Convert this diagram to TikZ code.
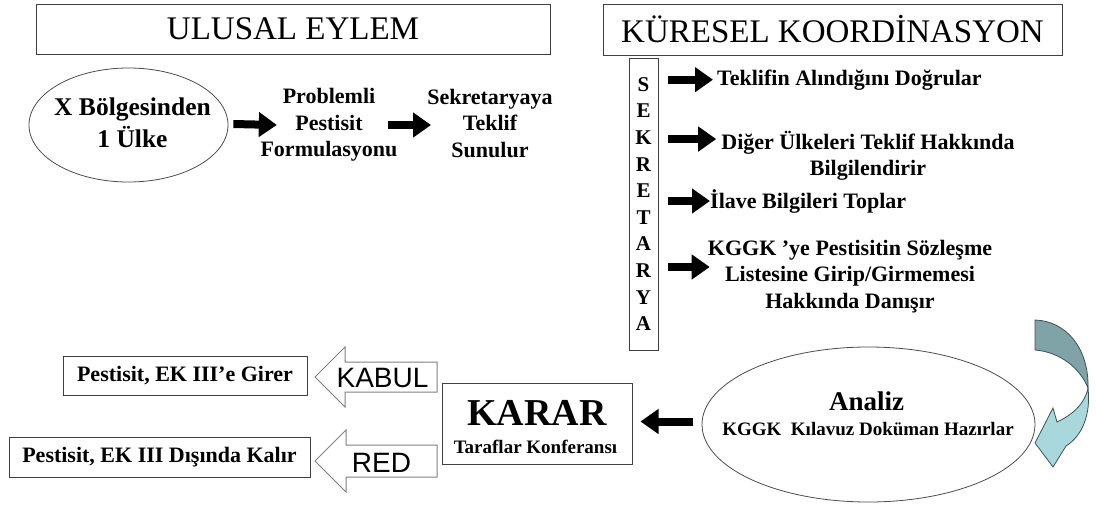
\documentclass[tikz,border=0pt]{standalone}
\usepackage{fontspec}
\setmainfont{Liberation Serif}
\newfontfamily\arialf{Liberation Sans}
\usetikzlibrary{arrows.meta,shapes.geometric}
\definecolor{edgegray}{HTML}{404040}
\definecolor{arrgray}{HTML}{808080}
\definecolor{tealdark}{HTML}{7FA3A6}
\definecolor{teallight}{HTML}{A8D8DC}
\definecolor{tealedge}{HTML}{3F5152}
\begin{document}
\begin{tikzpicture}[x=1pt,y=-1pt,
  box/.style={draw=edgegray, line width=1pt, inner sep=0pt},
  oval/.style={ellipse, draw=black!70, line width=0.8pt, inner sep=0pt},
  bt/.style={font=\bfseries\fontsize{22}{26.5}\selectfont, align=center, inner sep=0pt},
  fat/.style={line width=8pt, -{Triangle[length=18pt,width=24pt]}},
  blockarrow/.style={draw=arrgray, line width=1pt, fill=white},
  batext/.style={font=\arialf\fontsize{28}{28}\selectfont, inner sep=0pt, anchor=base},
  curvetop/.style={fill=tealdark, draw=tealedge, line width=0.8pt},
  curvebot/.style={fill=teallight, draw=tealedge, line width=0.8pt}]
\path[fill=white] (0,0) rectangle (1096,504);

% headers
\node[box, minimum width=514, minimum height=50] (ul) at (293,29) {\fontsize{33}{33}\selectfont ULUSAL EYLEM};
\node[box, minimum width=459, minimum height=51] (kk) at (832.5,29.5) {\fontsize{33}{33}\selectfont KÜRESEL KOORDİNASYON};

% national action row
\node[oval, minimum width=199, minimum height=114] (ulke) at (128.5,125) {};
\node[align=center, inner sep=0pt, font=\bfseries\fontsize{25.5}{32}\selectfont] (ulket) at (132.5,123) {X Bölgesinden\\1 Ülke};
\node[bt] (prob) at (329,125) {Problemli\\Pestisit\\Formulasyonu};
\node[bt] (sek) at (490,123) {Sekretaryaya\\Teklif\\Sunulur};
\draw[fat] ([xshift=5pt,yshift=1pt]ulke.east) -- ([xshift=16.5pt]prob.west);
\draw[fat] ([xshift=-10pt]prob.east) -- ([xshift=4pt]sek.west |- prob.east);

% secretariat
\node[box, minimum width=29, minimum height=292, align=center,
      font=\bfseries\fontsize{21}{26.6}\selectfont] (sk) at (643.5,204) {S\\E\\K\\R\\E\\T\\A\\R\\Y\\A};
\node[bt, anchor=base west] (t1) at (717,85) {Teklifin Alındığını Doğrular};
\node[bt] (t2) at (868,155.6) {Diğer Ülkeleri Teklif Hakkında\\Bilgilendirir};
\node[bt, anchor=base west] (t3) at (710,208) {İlave Bilgileri Toplar};
\node[bt] (t4) at (850,276.5) {KGGK ’ye Pestisitin Sözleşme\\Listesine Girip/Girmemesi\\Hakkında Danışır};
\coordinate (e2) at ([xshift=-5pt,yshift=-8.5pt]t2.north west);
\coordinate (e4) at ([xshift=2pt,yshift=9.5pt]t4.west);
\draw[fat] ([xshift=9pt]sk.east |- t1.west) -- ([xshift=-4pt]t1.west);
\draw[fat] ([xshift=9pt]sk.east |- e2) -- (e2);
\draw[fat] ([xshift=9pt]sk.east |- t3.west) -- (t3.west);
\draw[fat] ([xshift=9pt]sk.east |- e4) -- (e4);

% curved arrow
\path[curvetop] (1035,320) .. controls (1066,321) and (1089,348) .. (1088,388)
  .. controls (1080,368) and (1060,352) .. (1035,350) -- cycle;
\path[curvebot] (1088,388) .. controls (1091,415) and (1082,436) .. (1066,446)
  -- (1053,467) -- (1035,443) -- (1053,408) -- (1057,422)
  .. controls (1072,415) and (1085,404) .. (1088,388) -- cycle;

% analysis
\node[oval, minimum width=333, minimum height=155] (an) at (868.5,424.5) {};
\node[font=\bfseries\fontsize{27}{27}\selectfont, anchor=base, inner sep=0pt] (ant) at (866.5,410) {Analiz};
\node[font=\bfseries\fontsize{19}{19}\selectfont, anchor=base, inner sep=0pt] (ant2) at (868,435) {KGGK~~Kılavuz Doküman Hazırlar};

% decision
\node[box, minimum width=190, minimum height=81] (kr) at (537,423.5) {};
\node[font=\bfseries\fontsize{38}{38}\selectfont, anchor=base, inner sep=0pt] (krt) at (537,425) {KARAR};
\node[font=\bfseries\fontsize{19}{19}\selectfont, anchor=base, inner sep=0pt] (krt2) at (535.5,453) {Taraflar Konferansı};
\coordinate (s5) at ([xshift=-9pt,yshift=3pt]an.west);
\draw[fat] (s5) -- ([xshift=8pt]kr.east |- s5);

% outcomes
\node[box, minimum width=244, minimum height=39, font=\bfseries\fontsize{22}{22}\selectfont] (g1) at (185,375.5) {Pestisit, EK III’e Girer};
\node[box, minimum width=301, minimum height=40, font=\bfseries\fontsize{22}{22}\selectfont] (g2) at (159.5,457) {Pestisit, EK III Dışında Kalır};

\draw[blockarrow] (315,377) -- (345,347) -- (345,362) -- (437,362) -- (437,392) -- (345,392) -- (345,407) -- cycle;
\node[batext] (kab) at (382.5,387) {KABUL};
\draw[blockarrow] (315,461) -- (346,430) -- (346,445) -- (437,445) -- (437,477) -- (346,477) -- (346,492) -- cycle;
\node[batext] (red) at (381.5,472) {RED};
\end{tikzpicture}
\end{document}
